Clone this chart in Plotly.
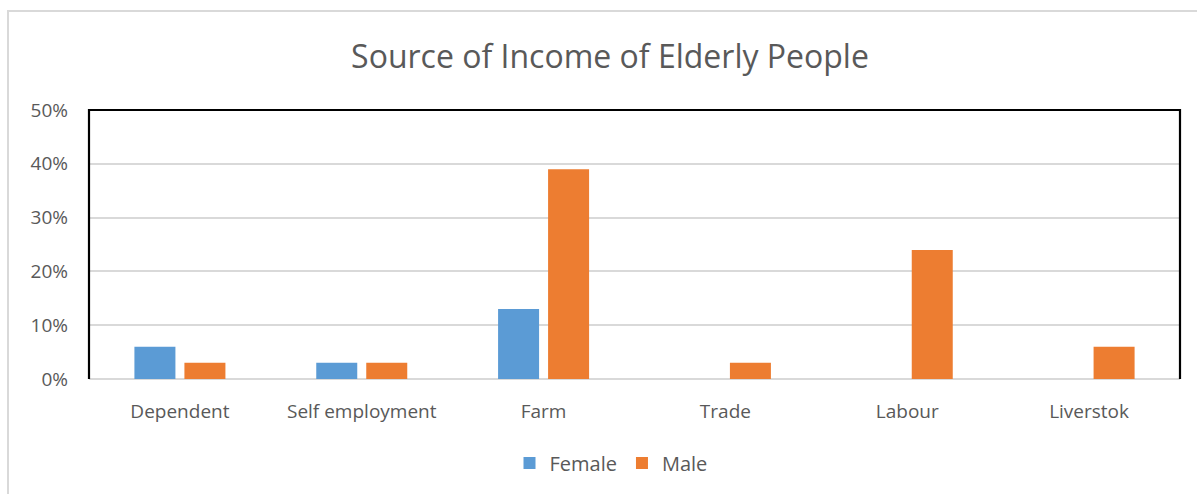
import plotly.graph_objects as go

categories = ["Dependent", "Self employment", "Farm", "Trade", "Labour", "Liverstok"]
female = [6, 3, 13, 0, 0, 0]
male = [3, 3, 39, 3, 24, 6]
y_ticks = [0, 10, 20, 30, 40, 50]
y_tick_labels = ["0%", "10%", "20%", "30%", "40%", "50%"]

FONT = "Open Sans"
GRAY = "#595959"

fig = go.Figure()
fig.add_trace(go.Bar(name="Female", x=categories, y=female, marker=dict(color="#5B9BD5", line=dict(width=0))))
fig.add_trace(go.Bar(name="Male", x=categories, y=male, marker=dict(color="#ED7D31", line=dict(width=0))))

fig.update_layout(
    width=1197, height=494,
    margin=dict(l=89, r=17, t=110, b=115),
    paper_bgcolor="white", plot_bgcolor="white",
    barmode="group", bargap=0.45, bargroupgap=0.18,
    font=dict(family=FONT, color=GRAY, size=19),
    title=dict(text="Source of Income of Elderly People", x=610/1197, xanchor="center",
               y=1 - 57/494, yanchor="middle", xref="container", yref="container",
               font=dict(family=FONT, size=32, color=GRAY)),
    legend=dict(orientation="h", x=(611-89)/1091, xanchor="center", y=-0.312, yanchor="middle",
                font=dict(size=20, color=GRAY), itemwidth=30, traceorder="normal"),
    xaxis=dict(showgrid=False, showline=False, zeroline=False, ticks="", ticklabelstandoff=19,
               tickfont=dict(size=19, color=GRAY)),
    yaxis=dict(range=[0, 50], tickvals=y_ticks, ticktext=y_tick_labels, showgrid=True,
               gridcolor="#D9D9D9", gridwidth=1.8, zeroline=True, zerolinecolor="#D9D9D9",
               zerolinewidth=1.8, showline=False, ticks="", ticklabelstandoff=20,
               tickfont=dict(size=19, color=GRAY)),
    shapes=[
        dict(type="rect", xref="paper", yref="paper", x0=(8-89)/1091, x1=(1210-89)/1091,
             y0=-0.6, y1=(379-11)/269, line=dict(color="#D9D9D9", width=2), layer="below"),
        dict(type="path", xref="paper", yref="paper", path="M 0 0 L 0 1 L 1 1 L 1 0",
             line=dict(color="black", width=2.2), layer="above"),
    ],
)

fig.write_html("out.html", config={"displayModeBar": False},
               post_script="document.body.style.margin='0';document.body.style.overflow='hidden';")
